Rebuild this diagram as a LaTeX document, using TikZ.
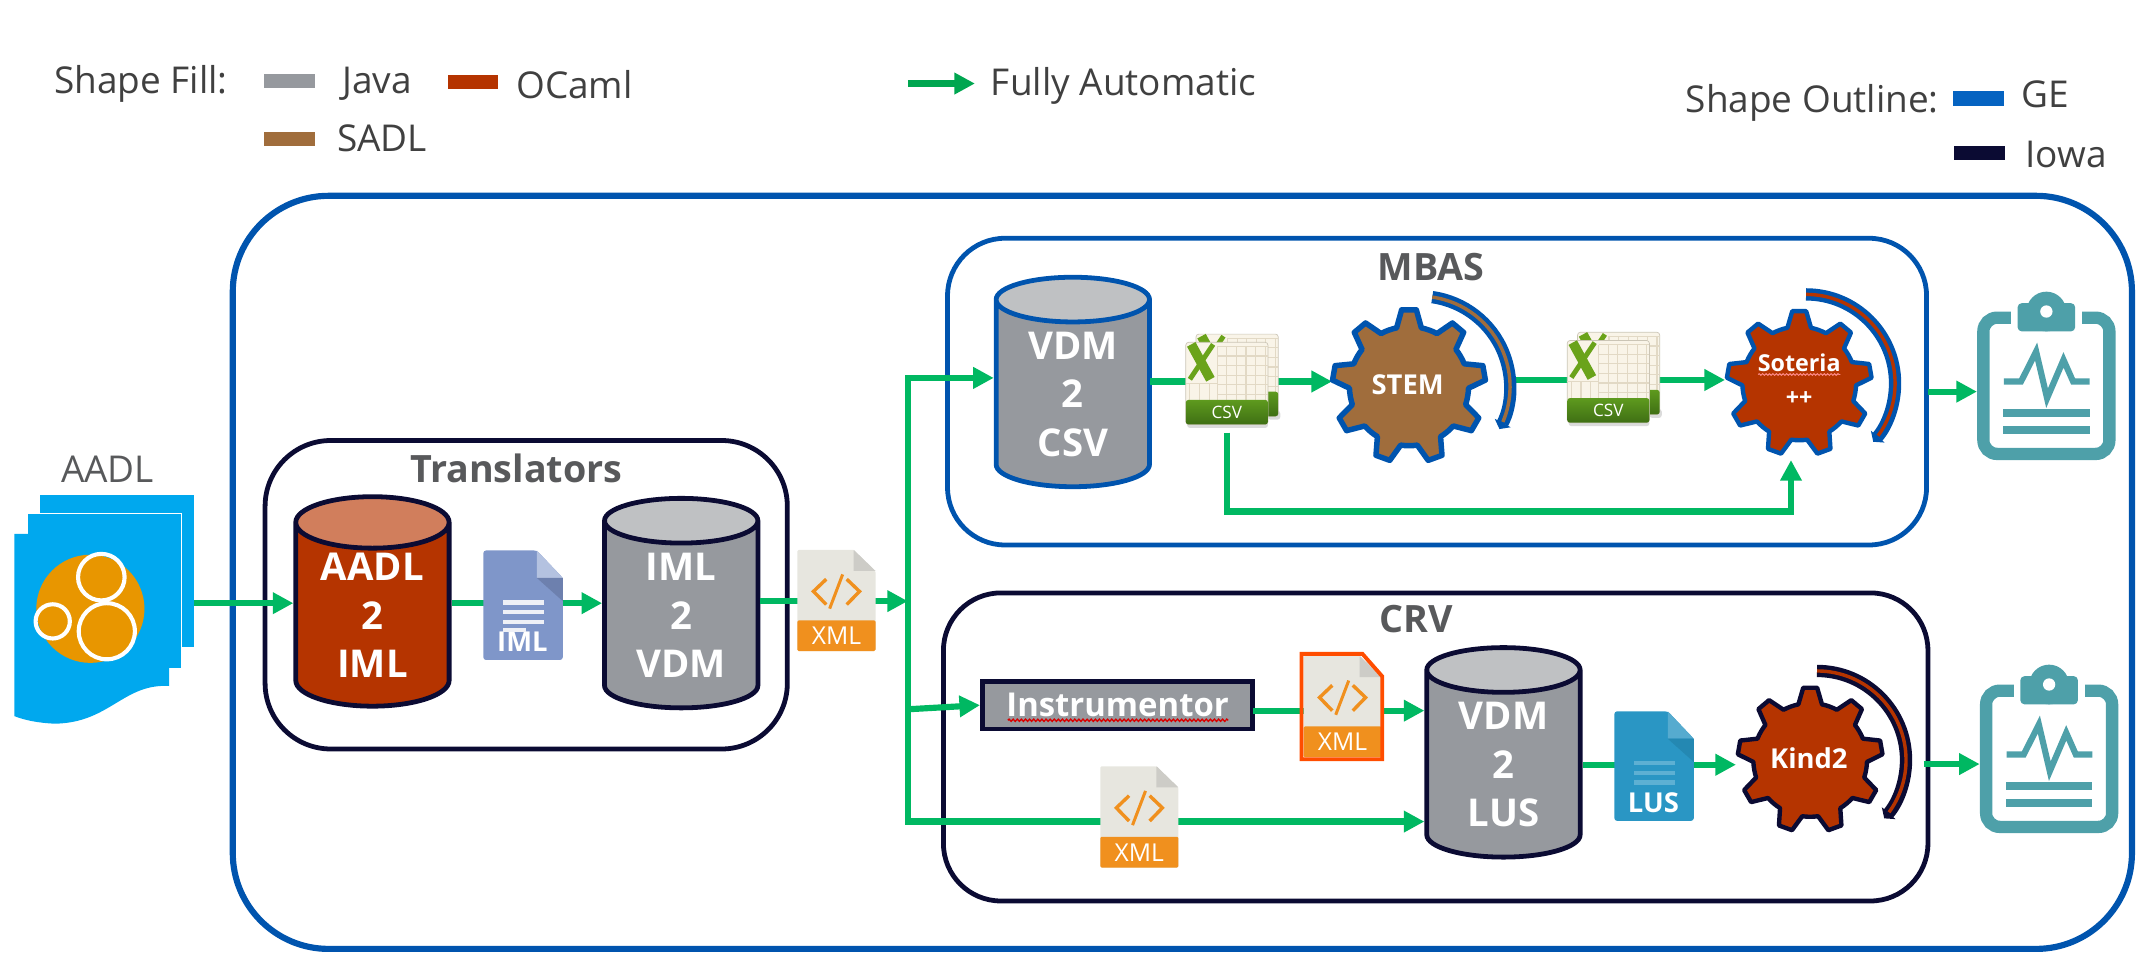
\documentclass[tikz,border=0pt]{standalone}
\usepackage{fontspec}
\setmainfont{Open Sans}
\usetikzlibrary{arrows.meta,shapes.geometric,decorations.pathmorphing}
\definecolor{gecol}{HTML}{0054AE}
\definecolor{gekey}{HTML}{0563C1}
\definecolor{iowacol}{HTML}{0B0B33}
\definecolor{javacol}{HTML}{96999E}
\definecolor{javatop}{HTML}{BFC1C3}
\definecolor{ocamlcol}{HTML}{B53400}
\definecolor{ocamltop}{HTML}{D17E5C}
\definecolor{sadlcol}{HTML}{A06D3C}
\definecolor{flowcol}{HTML}{00B862}
\definecolor{keyflow}{HTML}{00A650}
\definecolor{inkcol}{HTML}{58595B}
\definecolor{textcol}{HTML}{404040}
\definecolor{aadlblue}{HTML}{00A8EE}
\definecolor{aadlorange}{HTML}{E89600}
\definecolor{papercol}{HTML}{E7E6DF}
\definecolor{xmlorange}{HTML}{F0901E}
\definecolor{xmlred}{HTML}{FF4D00}
\definecolor{reportcol}{HTML}{4EA0A9}
\definecolor{imlbody}{HTML}{7F96C9}
\definecolor{imlfold}{HTML}{B4C2E0}
\definecolor{imlshade}{HTML}{6D80AE}
\definecolor{imlline}{HTML}{EEF0F6}
\definecolor{lusbody}{HTML}{2A96C4}
\definecolor{lusfold}{HTML}{56ABCF}
\definecolor{lusshade}{HTML}{2488B2}
\definecolor{lusline}{HTML}{5DB0D3}
\definecolor{csvpaper}{HTML}{F9F4E8}
\definecolor{csvgrid}{HTML}{E2D9C5}
\definecolor{csvedge}{HTML}{CBC5B6}
\definecolor{csvx}{HTML}{6AA31A}
\definecolor{csvbandtop}{HTML}{5E9A1E}
\definecolor{csvbandbot}{HTML}{3F6F14}
\tikzset{
  flow/.style={draw=flowcol,line width=4.5pt,-{Triangle[length=15pt,width=15pt]}},
  swatch/.style={fill=#1,minimum width=37pt,minimum height=10.5pt,inner sep=0pt},
  keytext/.style={text=textcol,font=\fontsize{27}{30}\selectfont,inner sep=0pt},
  boxtitle/.style={text=inkcol,font=\fontsize{27.5}{32}\selectfont\bfseries,inner sep=0pt},
  groupbox/.style={draw=#1,line width=3.5pt,rounded corners=42pt},
  dbcyl/.style n args={3}{shape=cylinder,shape border rotate=90,aspect=0.5,cylinder uses custom fill,
    cylinder body fill=#1,cylinder end fill=#2,draw=#3,line width=3.5pt,minimum width=112pt,minimum height=153pt,
    inner sep=0pt,align=center,text=white,font=\fontsize{28}{35.5}\selectfont\bfseries},
  geartext/.style={circle,minimum size=#1,inner sep=0pt,text=white,font=\fontsize{20}{24}\selectfont\bfseries},
  pics/gearwheel/.style n args={5}{code={
    \draw[fill=#1,draw=#2,line width=#3,line join=round]
      (102:#5) \foreach \a in {90,50,10,-30,-70,-110,-150,-190,-230}
      { -- (\a+5.5:#4) -- (\a-5.5:#4) -- (\a-12:#5) arc[start angle=\a-12,end angle=\a-28,radius=#5] } -- cycle;
  }},
  pics/stemloop/.style 2 args={code={
    \draw[#1,line width=9pt,-{Triangle[length=5pt,width=13pt]}] (17,-65) arc[start angle=82,end angle=-28,radius=66pt];
    \draw[#2,line width=2.5pt] (17,-65) arc[start angle=82,end angle=-23,radius=66pt];
  }},
  pics/bigloop/.style 2 args={code={
    \draw[#1,line width=9pt,-{Triangle[length=5pt,width=13pt]}] (5,-65) arc[start angle=90,end angle=-41,radius=65pt];
    \draw[#2,line width=2.5pt] (5,-65) arc[start angle=90,end angle=-36,radius=65pt];
  }},
  pics/xmlfile/.style={code={
    \fill[papercol,rounded corners=1pt] (0,0) -- (41,0) -- (57,15.5) -- (57,74) -- (0,74) -- cycle;
    \fill[papercol!75!gray] (41,0) -- (57,15.5) -- (41,15.5) -- cycle;
    \fill[xmlorange,rounded corners=1pt] (0,51.5) -- (57,51.5) -- (57,74) -- (0,74) -- cycle;
    \draw[xmlorange,line width=2.5pt] (21,21.5) -- (11.7,30.4) -- (21,40);
    \draw[xmlorange,line width=2.5pt] (36,21.5) -- (45.3,30.4) -- (36,40);
    \draw[xmlorange,line width=2.2pt] (33,18) -- (23.5,43);
    \node[text=white,inner sep=0pt,font=\fontsize{18}{20}\selectfont] (-tag) at (28.5,63) {XML};
  }},
  pics/sheetdoc/.style n args={5}{code={
    \fill[#1,rounded corners=2pt] (0,0) -- (39,0) -- (58,20) -- (58,80) -- (0,80) -- cycle;
    \fill[#2] (39,0) -- (58,20) -- (39,20) -- cycle;
    \fill[#3] (39,20) -- (58,20) -- (58,37) -- cycle;
    \foreach \ly in {38,45,52} \fill[#4] (14,\ly-1.5) rectangle (44,\ly+1.5);
    \node[text=white,inner sep=0pt,font=\fontsize{20}{24}\selectfont\bfseries] (-tag) at (28.5,67) {#5};
  }},
  pics/csvfile/.style={code={
    \fill[black!14,rounded corners=2pt] (1,58) rectangle (60,62.5);
    \fill[black!14,rounded corners=2pt] (60,50) rectangle (69,56.5);
    \foreach \ox/\oy in {7.5/-6,0/0} {
      \begin{scope}[shift={(\ox,\oy)}]
      \fill[csvpaper,rounded corners=2pt,draw=csvedge,line width=.5pt] (0,0) rectangle (60,60);
      \foreach \gx in {23,30,...,58} \draw[csvgrid,line width=.8pt] (\gx,3) -- (\gx,42);
      \foreach \gy in {3,10,...,38} \draw[csvgrid,line width=.8pt] (23,\gy) -- (60,\gy);
      \foreach \gx in {3,10,17} \draw[csvgrid,line width=.8pt] (\gx,30) -- (\gx,42);
      \draw[csvgrid,line width=.8pt] (0,30) -- (23,30);
      \shade[top color=csvbandtop,bottom color=csvbandbot,rounded corners=2pt] (0,42) rectangle (60,60);
      \draw[csvx,line width=7pt] (4,1.5) -- (18,27);
      \draw[csvx,line width=3.6pt] (20,1.5) -- (3,27);
      \end{scope}
    }
    \node[text=white,inner sep=0pt,font=\fontsize{12.5}{14}\selectfont] (-tag) at (30,51) {CSV};
    \coordinate (-bot) at (30,66);
  }},
  pics/report/.style={code={
    \draw[reportcol,line width=9pt,rounded corners=10pt] (-46,19) rectangle (46,118.5);
    \fill[white] (-26,4) rectangle (26,34);
    \fill[reportcol,rounded corners=3pt] (-21,8.4) rectangle (21,29);
    \fill[reportcol] (0,14.5) circle (14.5);
    \fill[white] (0,14.5) circle (4.5);
    \draw[reportcol,line width=4.5pt,line join=miter] (-31,65.6) -- (-18.5,65.6) -- (-7.5,43.7) -- (0.5,77.8) -- (12.5,49.8) -- (19.5,65.6) -- (31.5,65.6);
    \fill[reportcol] (-31.5,86) rectangle (31.5,91.4);
    \fill[reportcol] (-31.5,98.3) rectangle (31.5,103.7);
  }},
}
\begin{document}
\begin{tikzpicture}[x=1pt,y=-1pt]
\useasboundingbox (0,0) rectangle (1568,707.7);

\node[keytext] (fillkey) at (103,61) {Shape Fill:};
\node[swatch=javacol] (javakey) at (211.5,59) {};
\node[keytext] (javatext) at (275.5,61) {Java};
\node[swatch=ocamlcol] (ocamlkey) at (345.5,60) {};
\node[keytext] (ocamltext) at (419.5,62) {OCaml};
\node[swatch=sadlcol] (sadlkey) at (211.5,101.5) {};
\node[keytext] (sadltext) at (279,101) {SADL};
\coordinate (autostart) at (663,61);
\coordinate (autoend) at (712,61);
\draw[draw=keyflow,line width=4.5pt,-{Triangle[length=15pt,width=15pt]}] (autostart) -- (autoend);
\node[keytext] (autotext) at (820.5,63) {Fully Automatic};
\node[keytext] (outlinekey) at (1323.5,75) {Shape Outline:};
\node[swatch=gekey] (gekey) at (1445,72) {};
\node[keytext] (getext) at (1493.5,69) {GE};
\node[swatch=iowacol] (iowakey) at (1445.5,111.7) {};
\node[keytext] (iowatext) at (1509,113) {Iowa};

\draw[gecol,line width=4.5pt,rounded corners=70pt] (170,143) rectangle (1557,693);
\draw[groupbox=iowacol,rounded corners=48pt] (193.6,321.7) rectangle (575,547);
\draw[groupbox=gecol] (692,174) rectangle (1407,398);
\draw[groupbox=iowacol] (689,433) rectangle (1408,658);
\node[boxtitle] (transtitle) at (377,342) {Translators};
\node[boxtitle] (mbastitle) at (1045,195) {MBAS};
\node[boxtitle] (crvtitle) at (1034,452) {CRV};

\node[text=inkcol,inner sep=0pt,font=\fontsize{27}{32}\selectfont] (aadltitle) at (78.5,343) {AADL};
\fill[aadlblue,draw=white,line width=.4pt] (28.5,361) rectangle (141.6,473);
\fill[aadlblue,draw=white,line width=.4pt] (20,375) rectangle (132.4,488);
\fill[aadlblue] (10.5,389.8) -- (123.6,389.8) -- (123.6,501) .. controls (90,499) and (80,528) .. (40,528.5) .. controls (28,528) and (18,526) .. (10.5,523) -- cycle;
\fill[aadlorange] (66,444.6) circle (39.5);
\draw[white,line width=3pt] (74,421.5) circle (17);
\draw[white,line width=3pt] (38.5,453.8) circle (12.5);
\draw[white,line width=3pt] (78,461) circle (20.5);
\coordinate (aadlout) at (142,440.5);

\node[dbcyl={ocamlcol}{ocamltop}{iowacol}] (aadl2iml) at (272,449.5) {AADL\\2\\IML};
\node[dbcyl={javacol}{javatop}{iowacol}] (iml2vdm) at (497.5,449.5) {IML\\2\\VDM};
\node[dbcyl={javacol}{javatop}{gecol}] (vdm2csv) at (783.5,288) {VDM\\2\\CSV};
\node[dbcyl={javacol}{javatop}{iowacol}] (vdm2lus) at (1098,558.5) {VDM\\2\\LUS};
\node[draw=iowacol,fill=javacol,line width=3.5pt,minimum width=197.5pt,minimum height=34.8pt,inner sep=0pt,text=white,font=\fontsize{24}{26}\selectfont\bfseries] (instr) at (816.2,515) {Instrumentor};
\draw[red!85!black,line width=1pt,decorate,decoration={snake,amplitude=.8pt,segment length=3pt}] (736,526) -- (897,526);

\node[geartext=112pt] (stem) at (1029,282) {};
\node[geartext=108pt] (soteria) at (1314,280) {};
\node[geartext=108pt] (kind2) at (1322,555) {};
\coordinate (stemout) at (1107,277.5);
\coordinate (trunkmid) at (663,439);
\coordinate (trunktop) at (663,276);
\coordinate (trunkinstr) at (663,518);
\coordinate (trunkbot) at (663,600);
\coordinate (csvline) at (840,278.6);
\coordinate (instrline) at (915,519);
\coordinate (soteriabend) at (1308,373.5);
\coordinate (soteriain) at (1308,336);
\coordinate (soteriaout) at (1408,286);
\coordinate (kindout) at (1405,558);

\draw[flow] (aadlout) -- (aadlout -| aadl2iml.west);
\draw[flow] (aadlout -| aadl2iml.east) -- (aadlout -| iml2vdm.west);
\draw[flow] (iml2vdm.east |- trunkmid) -- (trunkmid);
\draw[flowcol,line width=4.5pt,line cap=rect] (trunktop) -- (trunkbot);
\draw[flow] (trunktop) -- (trunktop -| vdm2csv.west);
\draw[flow] (trunkinstr) -- (instr.west);
\draw[flow] (trunkbot) -- (trunkbot -| vdm2lus.west);
\draw[flow] (csvline) -- (csvline -| stem.west);
\draw[flow] (stemout) -- (stemout -| soteria.west);
\draw[flow] (instrline) -- (instrline -| vdm2lus.west);
\draw[flow] (vdm2lus.east) -- (vdm2lus.east -| kind2.west);

\pic at (1029,282) {gearwheel={sadlcol}{gecol}{4pt}{56pt}{43.5pt}};
\pic at (1029,282) {stemloop={gecol}{sadlcol}};
\pic at (1314,280) {gearwheel={ocamlcol}{gecol}{3.2pt}{53pt}{41.5pt}};
\pic at (1314,280) {bigloop={gecol}{ocamlcol}};
\pic at (1322,555) {gearwheel={ocamlcol}{iowacol}{3.2pt}{53pt}{41.5pt}};
\pic at (1322,555) {bigloop={iowacol}{ocamlcol}};
\node[geartext=60pt] (stemtext) at (1028,281) {STEM};
\node[geartext=60pt,font=\fontsize{17}{20}\selectfont\bfseries] (sotname) at (1314,265) {Soteria};
\draw[white!55!red,line width=.7pt,decorate,decoration={snake,amplitude=.6pt,segment length=2.5pt}] (1284,273.5) -- (1344,273.5);
\node[geartext=20pt,font=\fontsize{17}{20}\selectfont\bfseries] (sotplus) at (1314,291) {++};
\node[geartext=60pt] (kindtext) at (1321,554) {Kind2};

\pic (imlfile) at (353,402) {sheetdoc={imlbody}{imlfold}{imlshade}{imlline}{IML}};
\fill[imlline] (367,458.5) rectangle (384,461.5);
\pic (xmlone) at (582.4,401.5) {xmlfile};
\pic (csvone) at (866,250) {csvfile};
\pic (csvtwo) at (1144.6,248.7) {csvfile};
\pic (xmltwo) at (952,479) {xmlfile};
\draw[xmlred,line width=2.8pt] (950.5,477.5) -- (995,477.5) -- (1009.5,494) -- (1009.5,554.5) -- (950.5,554.5) -- cycle;
\pic (xmlthree) at (803.6,559.6) {xmlfile};
\pic (lusfile) at (1179,519.5) {sheetdoc={lusbody}{lusfold}{lusshade}{lusline}{LUS}};
\draw[flow] (csvone-bot) |- (soteriabend) -- (soteriain);

\node[minimum width=101pt,minimum height=123pt,inner sep=0pt] (reportone) at (1494.5,274.5) {};
\node[minimum width=101pt,minimum height=123pt,inner sep=0pt] (reporttwo) at (1496.5,547) {};
\pic at (1494.5,213) {report};
\pic at (1496.5,485.4) {report};
\draw[flow] (soteriaout) -- (soteriaout -| reportone.west);
\draw[flow] (kindout) -- (kindout -| reporttwo.west);
\end{tikzpicture}
\end{document}
